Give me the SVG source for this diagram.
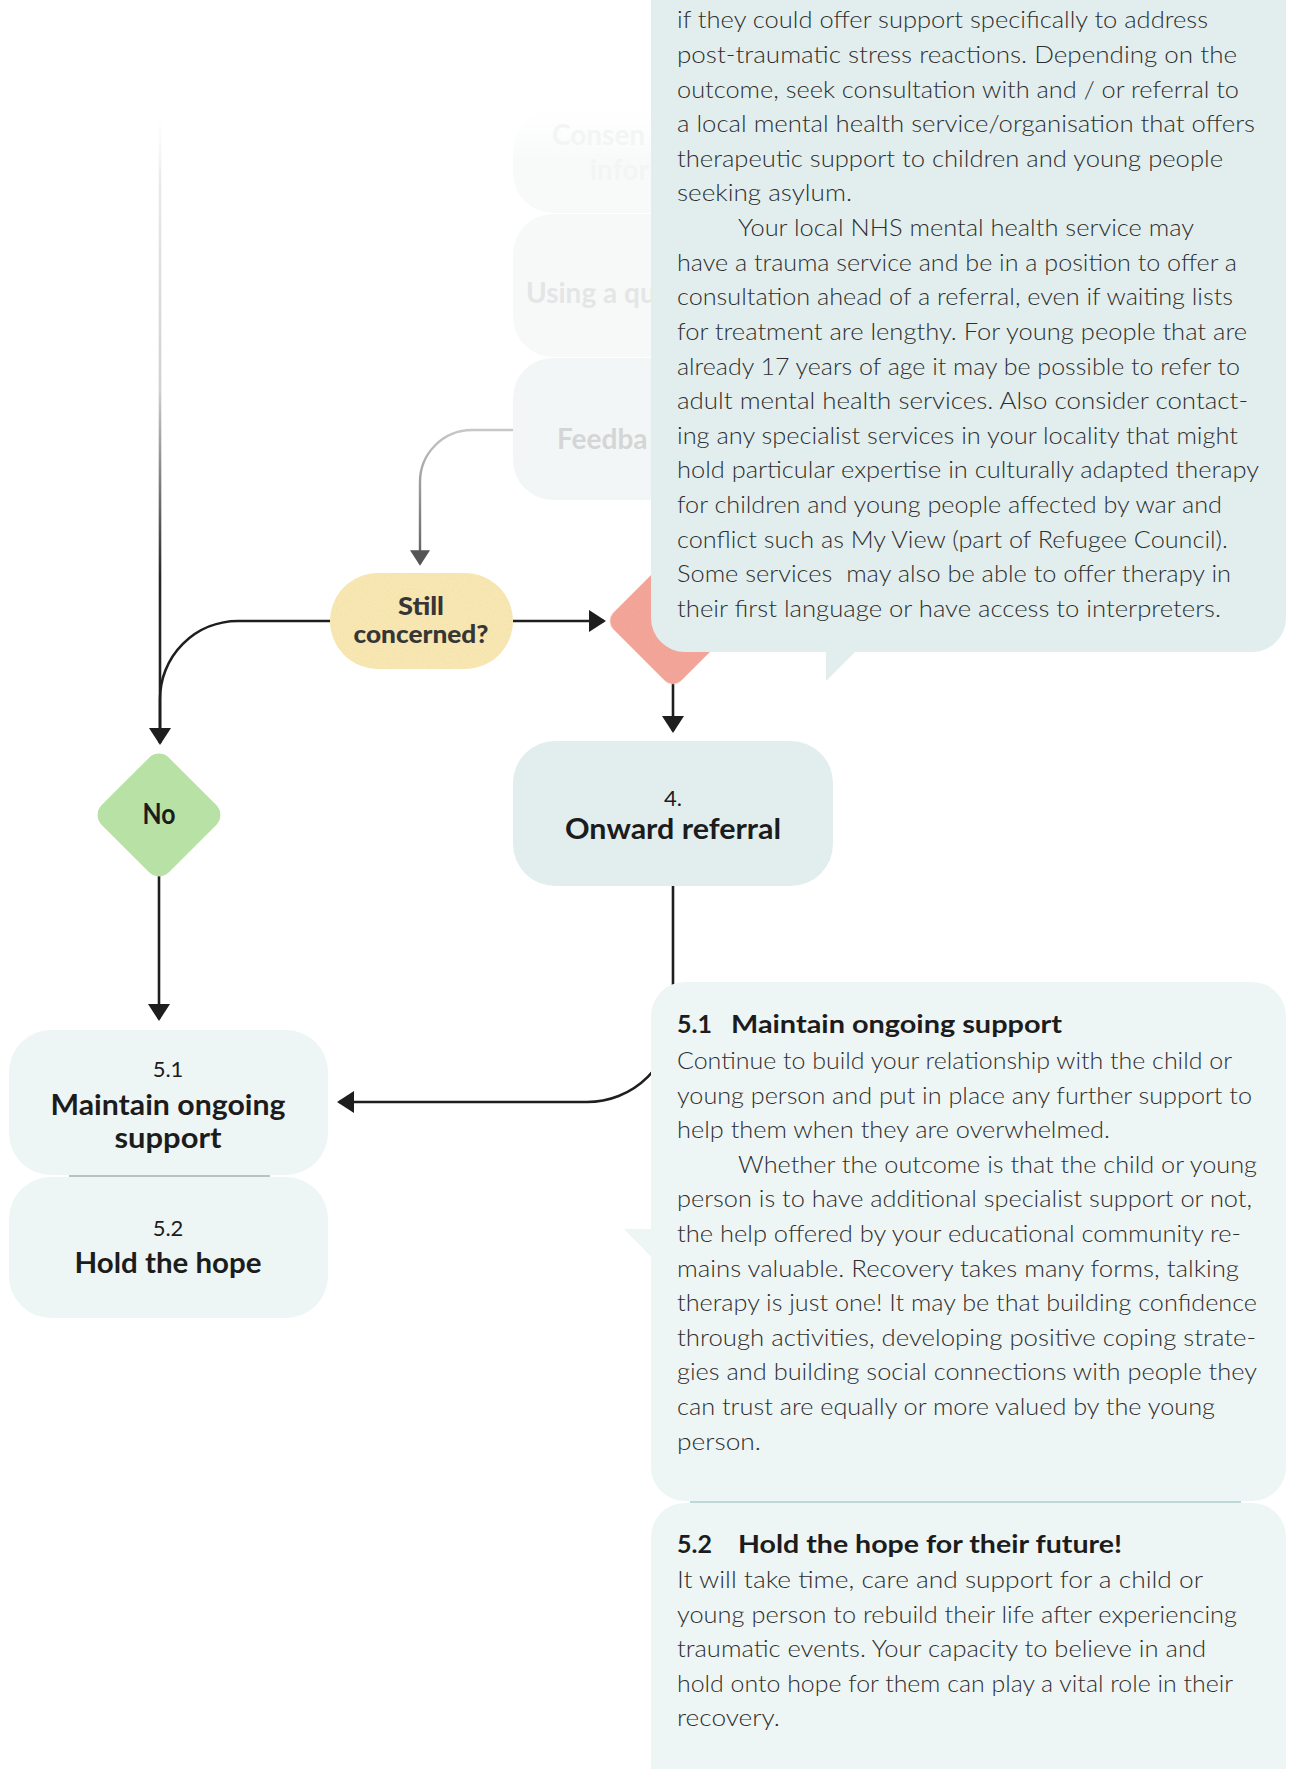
<svg xmlns="http://www.w3.org/2000/svg" width="1292" height="1769" viewBox="0 0 1292 1769">
  <style>
    .body { font-family: Lato, "Liberation Sans", sans-serif; font-weight: 300; font-size: 23px; fill: #2e2e2e; }
    .head { font-family: Lato, "Liberation Sans", sans-serif; font-weight: 700; font-size: 25px; fill: #1c1c1c; }
    .num { font-family: Lato, "Liberation Sans", sans-serif; font-weight: 400; font-size: 22px; fill: #1c1c1c; text-anchor: middle; }
    .label { font-family: Lato, "Liberation Sans", sans-serif; font-weight: 700; font-size: 28px; fill: #1c1c1c; text-anchor: middle; }
    .ask { font-family: Lato, "Liberation Sans", sans-serif; font-weight: 900; font-size: 24px; fill: #363636; text-anchor: middle; }
    .ghost { font-family: Lato, "Liberation Sans", sans-serif; font-weight: 700; font-size: 28px; }
    .wire { fill: none; stroke: #1e1e1e; stroke-width: 2.6; }
    .pre { white-space: pre; }
  </style>
  <defs>
    <marker id="tip" viewBox="0 0 17 22" markerWidth="17" markerHeight="22" refX="15" refY="11" orient="auto" markerUnits="userSpaceOnUse">
      <path d="M0,0 L17,11 L0,22 z" fill="#1e1e1e"/>
    </marker>
    <marker id="tipGrey" viewBox="0 0 17 22" markerWidth="16" markerHeight="20" refX="15" refY="11" orient="auto" markerUnits="userSpaceOnUse">
      <path d="M0,0 L17,11 L0,22 z" fill="#555"/>
    </marker>
    <linearGradient id="fadeLine" gradientUnits="userSpaceOnUse" x1="0" y1="100" x2="0" y2="745">
      <stop offset="0" stop-color="#ffffff" stop-opacity="0"/>
      <stop offset="0.12" stop-color="#eaeaea"/>
      <stop offset="0.45" stop-color="#d0d0d0"/>
      <stop offset="0.6" stop-color="#7a7a7a"/>
      <stop offset="0.74" stop-color="#262626"/>
      <stop offset="1" stop-color="#1e1e1e"/>
    </linearGradient>
    <linearGradient id="fadeCurve" gradientUnits="userSpaceOnUse" x1="0" y1="430" x2="0" y2="566">
      <stop offset="0" stop-color="#c8c8c8"/>
      <stop offset="1" stop-color="#5a5a5a"/>
    </linearGradient>
    <linearGradient id="fadeBox" x1="0" y1="0" x2="0" y2="1">
      <stop offset="0" stop-color="#f8fafa" stop-opacity="0"/>
      <stop offset="0.5" stop-color="#f8fafa"/>
      <stop offset="1" stop-color="#f8fafa"/>
    </linearGradient>
    <filter id="grain" x="0" y="0" width="1" height="1">
      <feTurbulence type="fractalNoise" baseFrequency="0.85" numOctaves="2" seed="4" result="noise"/>
      <feColorMatrix in="noise" type="saturate" values="0" result="grey"/>
      <feComponentTransfer in="grey" result="soft">
        <feFuncR type="linear" slope="0.16" intercept="0.9"/>
        <feFuncG type="linear" slope="0.16" intercept="0.9"/>
        <feFuncB type="linear" slope="0.16" intercept="0.9"/>
        <feFuncA type="linear" slope="0" intercept="1"/>
      </feComponentTransfer>
      <feComposite in="soft" in2="SourceGraphic" operator="in" result="mask"/>
      <feBlend in="SourceGraphic" in2="mask" mode="multiply"/>
    </filter>
  </defs>

  <rect width="1292" height="1769" fill="#ffffff"/>

  <!-- earlier steps, faded into the background -->
  <g id="step-consent">
    <rect x="513" y="110" width="260" height="103" rx="40" fill="url(#fadeBox)"/>
    <text class="ghost" x="552" y="145" fill="#f3f5f5">Consen</text>
    <text class="ghost" x="590" y="180" fill="#f3f5f5">infor</text>
  </g>
  <g id="step-questionnaire">
    <rect x="513" y="214" width="260" height="143" rx="40" fill="#f7f9f9"/>
    <text class="ghost" x="526" y="303" fill="#e4e6e6">Using a qu</text>
  </g>
  <g id="step-feedback">
    <rect x="513" y="358" width="260" height="142" rx="40" fill="#f3f6f6"/>
    <text class="ghost" x="557" y="449" fill="#d4d6d6">Feedba</text>
  </g>

  <!-- connectors -->
  <g id="connectors">
    <path d="M160,100 V743" fill="none" stroke="url(#fadeLine)" stroke-width="2.6" marker-end="url(#tip)"/>
    <path d="M513,430 H472 A52,52 0 0 0 420,482 V564" fill="none" stroke="url(#fadeCurve)" stroke-width="2.4" marker-end="url(#tipGrey)"/>
    <path class="wire" d="M330,621 H238 A78,78 0 0 0 160,699 V743" stroke="#2a2a2a"/>
    <path class="wire" d="M513,621 H604" stroke="#2a2a2a" marker-end="url(#tip)"/>
    <path class="wire" d="M673,683 V731" marker-end="url(#tip)"/>
    <path class="wire" d="M159,876 V1019" marker-end="url(#tip)"/>
    <path class="wire" d="M673,886 V1016 A86,86 0 0 1 587,1102 H339" marker-end="url(#tip)"/>
  </g>

  <!-- decision: still concerned? -->
  <g id="still-concerned">
    <rect x="330" y="573" width="183" height="96" rx="48" fill="#f9e8b2" filter="url(#grain)"/>
    <text class="ask" x="421" y="615" textLength="46" lengthAdjust="spacingAndGlyphs">Still</text>
    <text class="ask" x="421" y="643" textLength="135" lengthAdjust="spacingAndGlyphs">concerned?</text>
  </g>

  <!-- decision: yes (largely covered by the note) -->
  <g id="yes-decision">
    <rect x="-48" y="-48" width="96" height="96" rx="12" fill="#f4a699" filter="url(#grain)" transform="translate(673,621) rotate(45)"/>
  </g>

  <!-- decision: no -->
  <g id="no-decision">
    <rect x="-47.5" y="-47.5" width="95" height="95" rx="14" fill="#b7e1a5" transform="translate(159,815) rotate(45)"/>
    <text class="label" x="159" y="824" textLength="33" lengthAdjust="spacingAndGlyphs">No</text>
  </g>

  <!-- step 4 -->
  <g id="onward-referral">
    <rect x="513" y="741" width="320" height="145" rx="42" fill="#e2eeee"/>
    <text class="num" x="673" y="806">4.</text>
    <text class="label" x="673" y="839" textLength="216" lengthAdjust="spacingAndGlyphs">Onward referral</text>
  </g>

  <!-- step 5 -->
  <g id="maintain-support">
    <rect x="9" y="1030" width="319" height="145" rx="42" fill="#eef5f5"/>
    <text class="num" x="168" y="1077">5.1</text>
    <text class="label" x="168" y="1115" textLength="235" lengthAdjust="spacingAndGlyphs">Maintain ongoing</text>
    <text class="label" x="168" y="1148" textLength="107" lengthAdjust="spacingAndGlyphs">support</text>
  </g>
  <line x1="69" y1="1176" x2="270" y2="1176" stroke="#a4aca4" stroke-width="1.5"/>
  <g id="hold-hope">
    <rect x="9" y="1177" width="319" height="141" rx="42" fill="#eef5f5"/>
    <text class="num" x="168" y="1236">5.2</text>
    <text class="label" x="168" y="1273" textLength="187" lengthAdjust="spacingAndGlyphs">Hold the hope</text>
  </g>

  <!-- note for step 4 -->
  <g id="note-referral">
    <rect x="651" y="-40" width="635" height="692" rx="34" fill="#e2eeee"/>
    <polygon points="826,640 826,681 867,640" fill="#e2eeee"/>
    <text class="body" x="677" y="28.3" textLength="531" lengthAdjust="spacingAndGlyphs">if they could offer support specifically to address</text>
    <text class="body" x="677" y="62.9" textLength="560" lengthAdjust="spacingAndGlyphs">post-traumatic stress reactions. Depending on the</text>
    <text class="body" x="677" y="97.5" textLength="562" lengthAdjust="spacingAndGlyphs">outcome, seek consultation with and / or referral to</text>
    <text class="body" x="677" y="132.1" textLength="578" lengthAdjust="spacingAndGlyphs">a local mental health service/organisation that offers</text>
    <text class="body" x="677" y="166.7" textLength="546" lengthAdjust="spacingAndGlyphs">therapeutic support to children and young people</text>
    <text class="body" x="677" y="201.3" textLength="175" lengthAdjust="spacingAndGlyphs">seeking asylum.</text>
    <text class="body" x="738" y="235.9" textLength="456" lengthAdjust="spacingAndGlyphs">Your local NHS mental health service may</text>
    <text class="body" x="677" y="270.5" textLength="560" lengthAdjust="spacingAndGlyphs">have a trauma service and be in a position to offer a</text>
    <text class="body" x="677" y="305.1" textLength="556" lengthAdjust="spacingAndGlyphs">consultation ahead of a referral, even if waiting lists</text>
    <text class="body" x="677" y="339.9" textLength="570" lengthAdjust="spacingAndGlyphs">for treatment are lengthy. For young people that are</text>
    <text class="body" x="677" y="374.5" textLength="563" lengthAdjust="spacingAndGlyphs">already 17 years of age it may be possible to refer to</text>
    <text class="body" x="677" y="409.1" textLength="571" lengthAdjust="spacingAndGlyphs">adult mental health services. Also consider contact-</text>
    <text class="body" x="677" y="443.7" textLength="561" lengthAdjust="spacingAndGlyphs">ing any specialist services in your locality that might</text>
    <text class="body" x="677" y="478.3" textLength="582" lengthAdjust="spacingAndGlyphs">hold particular expertise in culturally adapted therapy</text>
    <text class="body" x="677" y="512.9" textLength="545" lengthAdjust="spacingAndGlyphs">for children and young people affected by war and</text>
    <text class="body" x="677" y="547.5" textLength="551" lengthAdjust="spacingAndGlyphs">conflict such as My View (part of Refugee Council).</text>
    <text class="body pre" x="677" y="582.1" textLength="554" lengthAdjust="spacingAndGlyphs">Some services  may also be able to offer therapy in</text>
    <text class="body" x="677" y="616.7" textLength="544" lengthAdjust="spacingAndGlyphs">their first language or have access to interpreters.</text>
  </g>

  <!-- note for step 5.1 -->
  <g id="note-maintain">
    <rect x="651" y="982" width="635" height="519" rx="34" fill="#eef5f5"/>
    <polygon points="624,1229 662,1229 662,1268" fill="#eef5f5"/>
    <text class="head" x="677" y="1033">5.1</text>
    <text class="head" x="731" y="1033" textLength="331" lengthAdjust="spacingAndGlyphs">Maintain ongoing support</text>
    <text class="body" x="677" y="1069" textLength="555" lengthAdjust="spacingAndGlyphs">Continue to build your relationship with the child or</text>
    <text class="body" x="677" y="1103.6" textLength="575" lengthAdjust="spacingAndGlyphs">young person and put in place any further support to</text>
    <text class="body" x="677" y="1138.2" textLength="433" lengthAdjust="spacingAndGlyphs">help them when they are overwhelmed.</text>
    <text class="body" x="738" y="1172.8" textLength="519" lengthAdjust="spacingAndGlyphs">Whether the outcome is that the child or young</text>
    <text class="body" x="677" y="1207.4" textLength="575" lengthAdjust="spacingAndGlyphs">person is to have additional specialist support or not,</text>
    <text class="body" x="677" y="1242" textLength="564" lengthAdjust="spacingAndGlyphs">the help offered by your educational community re-</text>
    <text class="body" x="677" y="1276.6" textLength="562" lengthAdjust="spacingAndGlyphs">mains valuable. Recovery takes many forms, talking</text>
    <text class="body" x="677" y="1311.2" textLength="580" lengthAdjust="spacingAndGlyphs">therapy is just one! It may be that building confidence</text>
    <text class="body" x="677" y="1345.8" textLength="579" lengthAdjust="spacingAndGlyphs">through activities, developing positive coping strate-</text>
    <text class="body" x="677" y="1380.4" textLength="580" lengthAdjust="spacingAndGlyphs">gies and building social connections with people they</text>
    <text class="body" x="677" y="1415" textLength="538" lengthAdjust="spacingAndGlyphs">can trust are equally or more valued by the young</text>
    <text class="body" x="677" y="1449.6" textLength="84" lengthAdjust="spacingAndGlyphs">person.</text>
  </g>
  <line x1="690" y1="1502" x2="1241" y2="1502" stroke="#a8cbcb" stroke-width="1.5"/>

  <!-- note for step 5.2 -->
  <g id="note-hope">
    <rect x="651" y="1503" width="635" height="320" rx="34" fill="#eef5f5"/>
    <text class="head" x="677" y="1553">5.2</text>
    <text class="head" x="738" y="1553" textLength="384" lengthAdjust="spacingAndGlyphs">Hold the hope for their future!</text>
    <text class="body" x="677" y="1588" textLength="526" lengthAdjust="spacingAndGlyphs">It will take time, care and support for a child or</text>
    <text class="body" x="677" y="1622.6" textLength="560" lengthAdjust="spacingAndGlyphs">young person to rebuild their life after experiencing</text>
    <text class="body" x="677" y="1657.2" textLength="529" lengthAdjust="spacingAndGlyphs">traumatic events. Your capacity to believe in and</text>
    <text class="body" x="677" y="1691.8" textLength="556" lengthAdjust="spacingAndGlyphs">hold onto hope for them can play a vital role in their</text>
    <text class="body" x="677" y="1726.4" textLength="103" lengthAdjust="spacingAndGlyphs">recovery.</text>
  </g>
</svg>
